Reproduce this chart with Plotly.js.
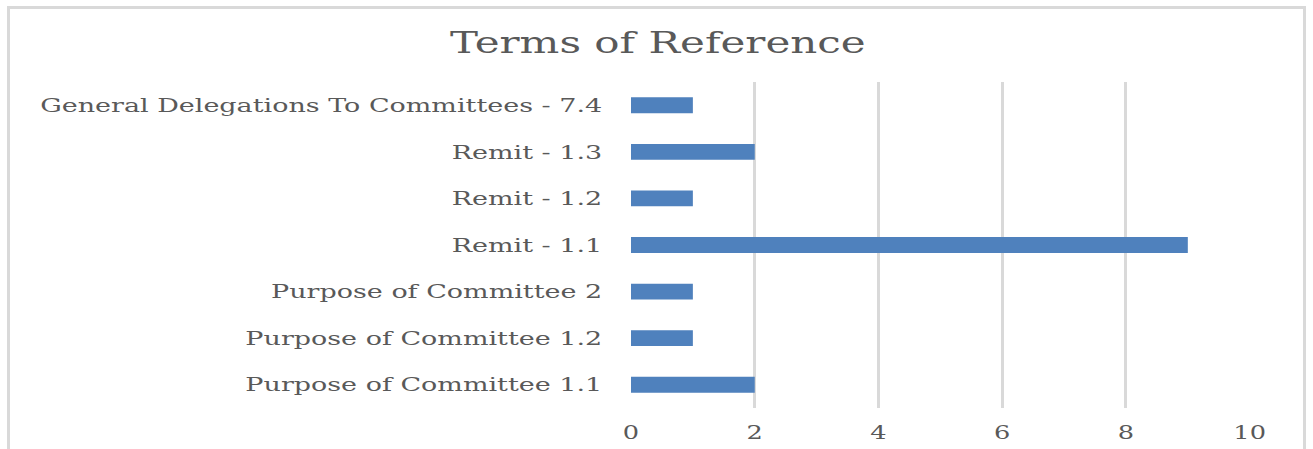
<!DOCTYPE html>
<html>
<head>
<meta charset="utf-8">
<script src="https://cdn.plot.ly/plotly-3.0.1.min.js"></script>
<style>
html,body{margin:0;padding:0;background:#fff;}
#chart{width:1313px;height:449px;}
#frame{position:absolute;left:7px;top:6px;width:1299px;height:460px;border:3px solid #d9d9d9;box-sizing:border-box;pointer-events:none;}
</style>
</head>
<body>
<div id="chart"></div>
<div id="frame"></div>
<script>
const categories = [
  "Purpose of Committee 1.1",
  "Purpose of Committee 1.2",
  "Purpose of Committee 2",
  "Remit - 1.1",
  "Remit - 1.2",
  "Remit - 1.3",
  "General Delegations To Committees - 7.4"
];
const values = [2, 1, 1, 9, 1, 2, 1];
const xTicks = [0, 2, 4, 6, 8, 10];

const font = "DejaVu Serif, serif";
const data = [{
  type: "bar",
  orientation: "h",
  y: categories,
  x: values,
  width: 0.34,
  marker: {color: "#4f81bd"},
  hoverinfo: "x+y"
}];
const layout = {
  width: 1313, height: 449,
  margin: {l: 631, r: 63, t: 82, b: 41},
  paper_bgcolor: "rgba(0,0,0,0)",
  plot_bgcolor: "rgba(0,0,0,0)",
  showlegend: false,
  title: {text: "Terms of Reference", font: {family: font, size: 30, color: "#595959"}, x: 0.501, xanchor: "center", y: 0.905, yanchor: "middle", xref: "container", yref: "container"},
  xaxis: {
    range: [0, 10.005], tickvals: xTicks, ticktext: xTicks.map(String),
    showgrid: true, gridcolor: "#d9d9d9", gridwidth: 3,
    zeroline: false, showline: false,
    ticks: "outside", ticklen: 7, tickcolor: "rgba(0,0,0,0)",
    tickfont: {family: font, size: 19, color: "#595959"}, fixedrange: true
  },
  yaxis: {
    type: "category", range: [-0.5, 6.5],
    showgrid: false, zeroline: false, showline: false,
    ticks: "outside", ticklen: 24, tickcolor: "rgba(0,0,0,0)",
    tickfont: {family: font, size: 19, color: "#595959"}, fixedrange: true
  }
};

function widen(selector, s, anchor) {
  document.querySelectorAll(selector).forEach(function (el) {
    const bb = el.getBBox();
    const ax = anchor === "end" ? bb.x + bb.width : bb.x + bb.width / 2;
    const t = el.getAttribute("transform") || "";
    el.setAttribute("transform", t + " translate(" + ax + ",0) scale(" + s + ",1) translate(" + (-ax) + ",0)");
  });
}

Plotly.newPlot("chart", data, layout, {displayModeBar: false, staticPlot: true}).then(function () {
  widen("#chart .ytick text", 1.42, "end");
  widen("#chart .xtick text", 1.35, "middle");
  widen("#chart .gtitle", 1.4, "middle");
});
</script>
</body>
</html>
